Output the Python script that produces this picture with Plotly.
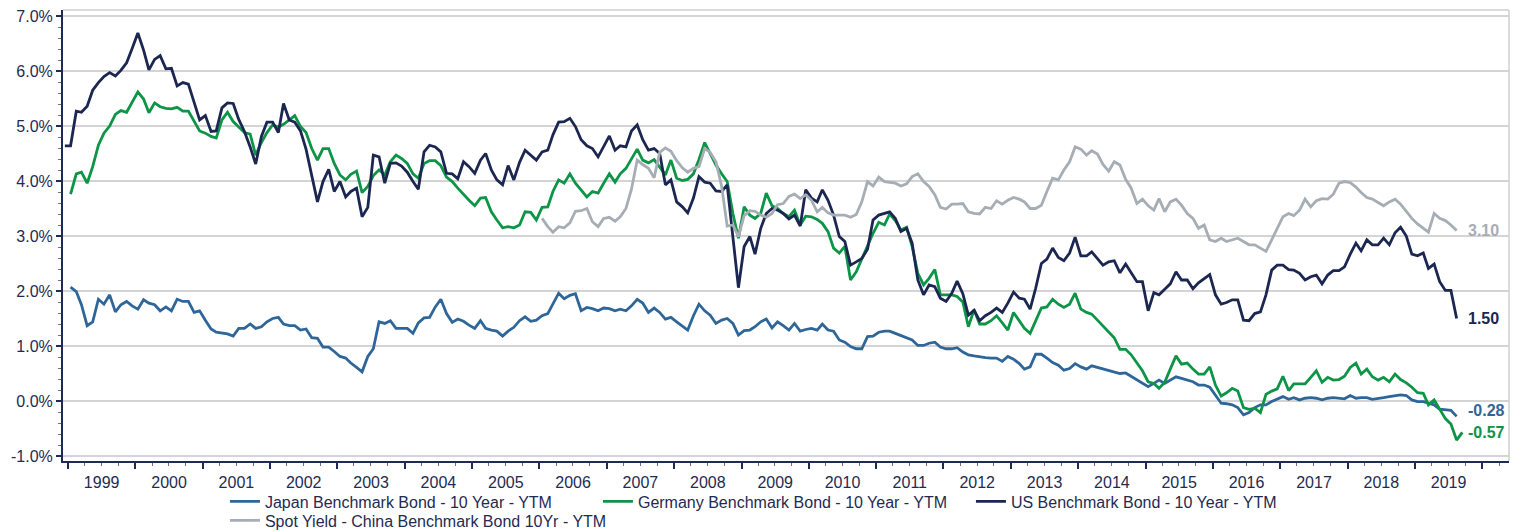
import plotly.graph_objects as go

def month_dates(y, m, n):
    out = []
    for _ in range(n):
        out.append(f"{y}-{m:02d}-15")
        m += 1
        if m > 12:
            m = 1
            y += 1
    return out

# ---------------- data (monthly, %) ----------------
us_start = (1998, 12)
us_vals = [
    4.64, 4.64, 5.27, 5.25, 5.36, 5.65, 5.79, 5.90, 5.97, 5.91, 6.01, 6.15, 6.41,
    6.69, 6.38, 6.02, 6.21, 6.28, 6.04, 6.05, 5.73, 5.79, 5.76, 5.44, 5.11,
    5.19, 4.90, 4.91, 5.33, 5.42, 5.41, 5.12, 4.90, 4.62, 4.31, 4.81, 5.07,
    5.07, 4.88, 5.41, 5.11, 5.07, 4.91, 4.58, 4.08, 3.62, 3.99, 4.21, 3.81,
    3.99, 3.71, 3.81, 3.87, 3.35, 3.52, 4.47, 4.44, 3.96, 4.32, 4.33, 4.27,
    4.16, 3.99, 3.85, 4.53, 4.65, 4.62, 4.53, 4.14, 4.13, 4.04, 4.35, 4.26,
    4.14, 4.38, 4.50, 4.20, 4.02, 3.93, 4.28, 4.02, 4.34, 4.56, 4.47, 4.38,
    4.53, 4.56, 4.84, 5.07, 5.08, 5.14, 4.99, 4.75, 4.64, 4.59, 4.44, 4.62,
    4.82, 4.56, 4.64, 4.62, 4.91, 5.02, 4.75, 4.56, 4.59, 4.50, 3.93, 4.02,
    3.62, 3.53, 3.42, 3.69, 4.08, 3.98, 3.96, 3.82, 3.81, 3.93, 2.93, 2.06,
    2.81, 2.99, 2.67, 3.14, 3.41, 3.50, 3.47, 3.41, 3.31, 3.38, 3.18, 3.84,
    3.69, 3.62, 3.84, 3.65, 3.38, 2.99, 2.90, 2.47, 2.53, 2.59, 2.76, 3.29,
    3.38, 3.41, 3.44, 3.32, 3.08, 3.14, 2.87, 2.20, 1.93, 2.11, 2.08, 1.87,
    1.81, 1.96, 2.18, 1.95, 1.56, 1.65, 1.46, 1.55, 1.61, 1.69, 1.61, 1.78,
    1.98, 1.87, 1.85, 1.67, 2.05, 2.50, 2.58, 2.78, 2.61, 2.55, 2.69, 2.98,
    2.64, 2.64, 2.71, 2.59, 2.47, 2.53, 2.55, 2.33, 2.49, 2.33, 2.17, 2.17,
    1.64, 1.97, 1.93, 2.03, 2.13, 2.35, 2.20, 2.20, 2.04, 2.15, 2.22, 2.30,
    1.93, 1.76, 1.79, 1.84, 1.84, 1.47, 1.46, 1.59, 1.62, 1.93, 2.38, 2.47,
    2.47, 2.39, 2.38, 2.32, 2.20, 2.26, 2.29, 2.13, 2.29, 2.37, 2.37, 2.44,
    2.67, 2.87, 2.73, 2.93, 2.84, 2.84, 2.96, 2.84, 3.06, 3.16, 3.00, 2.67,
    2.64, 2.69, 2.41, 2.49, 2.17, 2.01, 2.01, 1.50,
]

japan_start = (1999, 1)
japan_vals = [
    2.07, 1.99, 1.75, 1.37, 1.44, 1.85, 1.76, 1.93, 1.62, 1.75, 1.81, 1.73,
    1.67, 1.84, 1.78, 1.75, 1.64, 1.71, 1.64, 1.85, 1.81, 1.81, 1.61, 1.64,
    1.47, 1.31, 1.25, 1.23, 1.22, 1.18, 1.32, 1.32, 1.40, 1.32, 1.35, 1.44,
    1.50, 1.52, 1.40, 1.37, 1.37, 1.29, 1.31, 1.15, 1.14, 0.98, 0.98, 0.90,
    0.81, 0.78, 0.69, 0.61, 0.53, 0.81, 0.95, 1.44, 1.41, 1.46, 1.32, 1.32,
    1.32, 1.23, 1.42, 1.51, 1.52, 1.71, 1.85, 1.59, 1.43, 1.49, 1.45, 1.38,
    1.32, 1.46, 1.32, 1.29, 1.27, 1.18, 1.27, 1.34, 1.46, 1.53, 1.45, 1.47,
    1.55, 1.59, 1.76, 1.96, 1.86, 1.92, 1.95, 1.64, 1.70, 1.68, 1.64, 1.69,
    1.68, 1.64, 1.67, 1.64, 1.73, 1.85, 1.78, 1.61, 1.69, 1.61, 1.49, 1.52,
    1.44, 1.37, 1.29, 1.55, 1.76, 1.64, 1.56, 1.41, 1.47, 1.50, 1.41, 1.20,
    1.28, 1.29, 1.35, 1.44, 1.49, 1.33, 1.44, 1.37, 1.29, 1.41, 1.27, 1.30,
    1.32, 1.29, 1.40, 1.29, 1.27, 1.11, 1.07, 0.99, 0.95, 0.95, 1.17, 1.18,
    1.25, 1.27, 1.27, 1.23, 1.19, 1.16, 1.11, 1.01, 1.01, 1.05, 1.07, 0.98,
    0.95, 0.95, 0.97, 0.89, 0.84, 0.82, 0.80, 0.79, 0.78, 0.78, 0.72, 0.81,
    0.76, 0.68, 0.58, 0.62, 0.85, 0.85, 0.78, 0.70, 0.65, 0.56, 0.59, 0.68,
    0.62, 0.58, 0.64, 0.61, 0.58, 0.55, 0.53, 0.50, 0.51, 0.45, 0.38, 0.32,
    0.26, 0.32, 0.38, 0.32, 0.38, 0.44, 0.41, 0.38, 0.35, 0.29, 0.29, 0.25,
    0.11, -0.04, -0.05, -0.07, -0.12, -0.25, -0.21, -0.12, -0.07, -0.07, -0.01, 0.03,
    0.08, 0.03, 0.06, 0.02, 0.05, 0.06, 0.05, 0.02, 0.05, 0.06, 0.05, 0.04,
    0.10, 0.05, 0.06, 0.06, 0.03, 0.04, 0.06, 0.08, 0.10, 0.11, 0.10, 0.02,
    -0.01, -0.01, -0.04, -0.07, -0.15, -0.16, -0.17, -0.28,
]

germany_start = (1999, 1)
germany_vals = [
    3.76, 4.13, 4.16, 3.96, 4.26, 4.65, 4.87, 5.00, 5.21, 5.28, 5.25, 5.44,
    5.62, 5.49, 5.24, 5.42, 5.35, 5.32, 5.31, 5.34, 5.27, 5.27, 5.10, 4.91,
    4.87, 4.81, 4.78, 5.11, 5.25, 5.08, 4.98, 4.88, 4.85, 4.47, 4.70, 4.88,
    5.02, 4.98, 5.03, 5.12, 5.19, 4.99, 4.88, 4.59, 4.38, 4.59, 4.59, 4.32,
    4.11, 4.02, 4.12, 4.18, 3.79, 3.90, 4.10, 4.20, 4.11, 4.35, 4.47, 4.41,
    4.32, 4.13, 4.05, 4.32, 4.37, 4.37, 4.28, 4.07, 3.99, 3.87, 3.75, 3.65,
    3.55, 3.69, 3.70, 3.44, 3.29, 3.15, 3.17, 3.15, 3.20, 3.44, 3.43, 3.29,
    3.52, 3.53, 3.81, 4.02, 3.96, 4.13, 3.96, 3.84, 3.71, 3.81, 3.78, 3.96,
    4.13, 3.98, 4.13, 4.23, 4.41, 4.58, 4.38, 4.33, 4.39, 4.26, 4.11, 4.38,
    4.05, 4.01, 4.03, 4.13, 4.39, 4.70, 4.50, 4.29, 4.13, 3.99, 3.41, 2.96,
    3.53, 3.38, 3.32, 3.41, 3.78, 3.55, 3.50, 3.41, 3.35, 3.47, 3.20, 3.36,
    3.35, 3.30, 3.23, 3.08, 2.78, 2.69, 2.81, 2.20, 2.35, 2.59, 2.81, 3.05,
    3.25, 3.20, 3.40, 3.28, 3.11, 3.16, 2.81, 2.32, 2.11, 2.23, 2.39, 1.93,
    1.93, 1.93, 1.90, 1.80, 1.35, 1.66, 1.40, 1.40, 1.46, 1.55, 1.42, 1.29,
    1.61, 1.46, 1.32, 1.23, 1.47, 1.69, 1.71, 1.85, 1.76, 1.70, 1.76, 1.96,
    1.67, 1.61, 1.58, 1.47, 1.35, 1.24, 1.15, 0.94, 0.94, 0.84, 0.69, 0.55,
    0.35, 0.32, 0.23, 0.34, 0.58, 0.82, 0.67, 0.69, 0.58, 0.49, 0.49, 0.62,
    0.29, 0.09, 0.15, 0.23, 0.18, -0.12, -0.15, -0.13, -0.21, 0.12, 0.18, 0.22,
    0.45, 0.19, 0.31, 0.31, 0.31, 0.43, 0.55, 0.34, 0.43, 0.38, 0.39, 0.45,
    0.61, 0.69, 0.49, 0.58, 0.44, 0.38, 0.43, 0.35, 0.49, 0.39, 0.33, 0.25,
    0.15, 0.14, -0.07, 0.02, -0.16, -0.32, -0.42, -0.71, -0.57,
]

china_start = (2006, 1)
china_vals = [
    3.32, 3.17, 3.07, 3.17, 3.15, 3.24, 3.45, 3.46, 3.50, 3.26, 3.17, 3.32,
    3.34, 3.27, 3.35, 3.50, 3.85, 4.38, 4.30, 4.23, 4.06, 4.52, 4.60, 4.54,
    4.37, 4.24, 4.16, 4.23, 4.26, 4.59, 4.52, 4.35, 3.90, 3.18, 3.20, 2.99,
    3.37, 3.46, 3.45, 3.38, 3.34, 3.41, 3.57, 3.59, 3.72, 3.76, 3.68, 3.75,
    3.65, 3.44, 3.52, 3.42, 3.38, 3.38, 3.38, 3.34, 3.39, 3.62, 3.99, 3.91,
    4.07, 3.99, 3.97, 3.96, 3.91, 3.95, 4.08, 4.13, 3.99, 3.90, 3.75, 3.52,
    3.49, 3.58, 3.58, 3.59, 3.44, 3.41, 3.40, 3.52, 3.50, 3.64, 3.58, 3.65,
    3.70, 3.67, 3.62, 3.50, 3.50, 3.56, 3.81, 4.05, 4.02, 4.20, 4.35, 4.62,
    4.58, 4.47, 4.55, 4.49, 4.30, 4.18, 4.35, 4.29, 4.03, 3.87, 3.59, 3.67,
    3.55, 3.47, 3.68, 3.44, 3.62, 3.67, 3.56, 3.41, 3.32, 3.14, 3.20, 2.93,
    2.90, 2.96, 2.90, 2.93, 2.96, 2.90, 2.84, 2.84, 2.78, 2.72, 2.93, 3.14,
    3.35, 3.41, 3.37, 3.47, 3.67, 3.53, 3.64, 3.68, 3.67, 3.76, 3.96, 3.99,
    3.97, 3.89, 3.79, 3.70, 3.67, 3.61, 3.55, 3.62, 3.67, 3.58, 3.44, 3.32,
    3.22, 3.14, 3.07, 3.41, 3.32, 3.28, 3.20, 3.10,
]

series_names = [
    "Japan Benchmark Bond - 10 Year - YTM",
    "Germany Benchmark Bond - 10 Year - YTM",
    "US Benchmark Bond - 10 Year - YTM",
    "Spot Yield - China Benchmark Bond 10Yr - YTM",
]
series_colors = ["#2E6699", "#0C9447", "#1B2750", "#A7ADB4"]

y_tickvals = [-1, 0, 1, 2, 3, 4, 5, 6, 7]
y_ticktext = ["-1.0%", "0.0%", "1.0%", "2.0%", "3.0%", "4.0%", "5.0%", "6.0%", "7.0%"]

# ---------------- figure ----------------
FONT = "Arial, 'Liberation Sans', sans-serif"
NAVY = "#1F2B52"
FS = 16

series = [
    (japan_start, japan_vals),
    (germany_start, germany_vals),
    (us_start, us_vals),
    (china_start, china_vals),
]
legend_refs = ["legend", "legend", "legend", "legend2"]

fig = go.Figure()
for (start, vals), name, col, lg in zip(series, series_names, series_colors, legend_refs):
    fig.add_trace(go.Scatter(
        x=month_dates(start[0], start[1], len(vals)), y=vals, mode="lines",
        name=name, line=dict(color=col, width=2.8), hoverinfo="x+y+name",
        legend=lg,
    ))

# end-value labels
last_date = month_dates(us_start[0], us_start[1], len(us_vals))[-1]
label_specs = [
    (china_vals[-1], series_colors[3], 0),
    (us_vals[-1], series_colors[2], 0),
    (japan_vals[-1], series_colors[0], 6),
    (germany_vals[-1], series_colors[1], 0),
]
for v, col, ysh in label_specs:
    fig.add_annotation(
        x=last_date, y=v, xref="x", yref="y", text=f"{v:.2f}", showarrow=False,
        xanchor="left", yanchor="middle", xshift=9, yshift=ysh,
        font=dict(family=FONT, size=FS, color=col, weight="bold"),
    )

# grey frame on top and right
fig.add_shape(type="line", xref="paper", yref="paper", x0=0, x1=1, y0=1, y1=1,
              line=dict(color="#CFCFCF", width=1.5))
fig.add_shape(type="line", xref="paper", yref="paper", x0=1, x1=1, y0=0, y1=1,
              line=dict(color="#CFCFCF", width=1.5))

legend_common = dict(
    orientation="h", xanchor="left", yanchor="top", entrywidthmode="pixels",
    traceorder="normal", font=dict(family=FONT, size=FS, color=NAVY),
    tracegroupgap=0, itemwidth=30, bgcolor="rgba(0,0,0,0)",
)

fig.update_layout(
    width=1515, height=531,
    margin=dict(l=63, r=6, t=10, b=70, autoexpand=False),
    paper_bgcolor="white", plot_bgcolor="white",
    font=dict(family=FONT, size=FS, color=NAVY),
    showlegend=True,
    legend=dict(x=0.112, y=-0.052, entrywidth=328, **legend_common),
    legend2=dict(x=0.112, y=-0.094, entrywidth=380, **legend_common),
    xaxis=dict(
        type="date", range=["1998-12-05", "2020-05-25"], automargin=False,
        tick0="1999-01-01", dtick="M12", tickformat="%Y", ticklabelmode="period",
        ticks="outside", ticklen=6, tickwidth=1.5, tickcolor=NAVY,
        showline=True, linecolor=NAVY, linewidth=2, showgrid=False, zeroline=False,
        tickfont=dict(family=FONT, size=FS, color=NAVY),
        minor=dict(tick0="1999-01-01", dtick="M3", ticks="outside", ticklen=3,
                   tickwidth=1, tickcolor="#6B7080", showgrid=False),
    ),
    yaxis=dict(
        range=[-1.091, 7.109], tickmode="array", tickvals=y_tickvals, ticktext=y_ticktext,
        automargin=False,
        ticks="outside", ticklen=5, tickwidth=1.5, tickcolor=NAVY,
        showline=True, linecolor=NAVY, linewidth=2,
        showgrid=True, gridcolor="#D4D4D4", gridwidth=1.5, zeroline=False,
        tickfont=dict(family=FONT, size=FS, color=NAVY),
        minor=dict(tickmode="linear", tick0=0, dtick=0.2, ticks="outside", ticklen=3,
                   tickwidth=1, tickcolor="#6B7080", showgrid=False),
    ),
)

fig.write_html("out.html", config={"displayModeBar": False},
               post_script="document.body.style.margin='0px';")
